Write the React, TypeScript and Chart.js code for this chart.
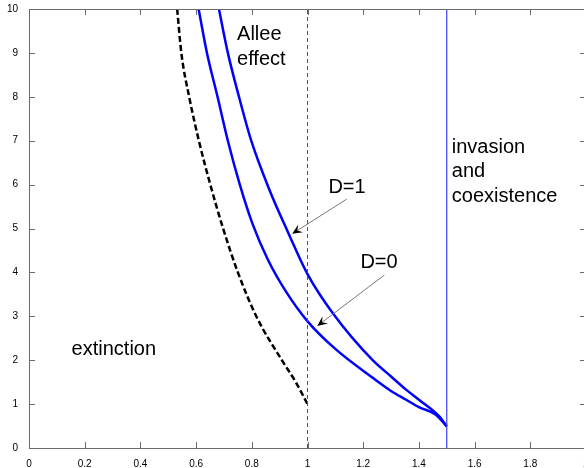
import React, { useEffect, useRef } from "react";
import { Chart, registerables } from "chart.js";

Chart.register(...registerables);

// Data
const dashX = [0.532, 0.547, 0.575, 0.61, 0.651, 0.697, 0.75, 0.816, 0.908, 0.958, 1.0];
const dashY = [10, 9, 8, 7, 6, 5, 4, 3, 2, 1.5, 1.0];

const d0X = [0.609, 0.639, 0.677, 0.714, 0.757, 0.803, 0.857, 0.924, 1.001, 1.103, 1.234, 1.3, 1.354, 1.4, 1.461, 1.5];
const d0Y = [10, 9, 8, 7, 6, 5.1, 4.3, 3.55, 2.88, 2.24, 1.6, 1.3, 1.1, 0.93, 0.76, 0.49];

const d1X = [0.682, 0.714, 0.754, 0.798, 0.862, 0.931, 1.001, 1.091, 1.234, 1.3, 1.354, 1.4, 1.473, 1.5];
const d1Y = [10, 9, 8, 7, 5.9, 4.9, 3.95, 3.07, 2.0, 1.63, 1.33, 1.1, 0.72, 0.49];

const alleeLineX = [1, 1];
const invasionLineX = [1.5, 1.5];
const vertLineY = [0, 10];

const xTicks = [0, 0.2, 0.4, 0.6, 0.8, 1, 1.2, 1.4, 1.6, 1.8, 2];
const yTicks = [0, 1, 2, 3, 4, 5, 6, 7, 8, 9, 10];

// Annotations (data coordinates)
const labelTexts = [["Allee", "effect"], ["extinction"], ["invasion", "and", "coexistence"], ["D=1"], ["D=0"]];
const labelX = [0.747, 0.153, 1.518, 1.075, 1.19];
const labelY = [9.29, 2.12, 6.72, 5.82, 4.1];

const arrowFromX = [1.141, 1.276];
const arrowFromY = [5.67, 3.94];
const arrowToX = [0.945, 1.035];
const arrowToY = [4.88, 2.78];

const zip = (xs: number[], ys: number[]) => xs.map((x, i) => ({ x, y: ys[i] }));

const AXIS_COLOR = "#6a6a6a";

const decorPlugin = {
  id: "decor",
  afterDraw(chart: any) {
    const { ctx, chartArea, scales } = chart;
    const xs = scales.x;
    const ys = scales.y;
    ctx.save();
    ctx.strokeStyle = AXIS_COLOR;
    ctx.lineWidth = 1;
    ctx.beginPath();
    ctx.moveTo(chartArea.left, chartArea.top + 0.5);
    ctx.lineTo(chartArea.right, chartArea.top + 0.5);
    ctx.moveTo(chartArea.right - 0.5, chartArea.top);
    ctx.lineTo(chartArea.right - 0.5, chartArea.bottom);
    const tl = 6;
    xTicks.forEach((v) => {
      const px = Math.round(xs.getPixelForValue(v)) + 0.5;
      ctx.moveTo(px, chartArea.bottom);
      ctx.lineTo(px, chartArea.bottom - tl);
      ctx.moveTo(px, chartArea.top);
      ctx.lineTo(px, chartArea.top + tl);
    });
    yTicks.forEach((v) => {
      const py = Math.round(ys.getPixelForValue(v)) + 0.5;
      ctx.moveTo(chartArea.left, py);
      ctx.lineTo(chartArea.left + tl, py);
      ctx.moveTo(chartArea.right, py);
      ctx.lineTo(chartArea.right - tl, py);
    });
    ctx.stroke();

    ctx.fillStyle = "#000";
    ctx.font = "20px 'Liberation Sans', Arial, sans-serif";
    ctx.textBaseline = "alphabetic";
    ctx.textAlign = "left";
    labelTexts.forEach((lines, i) => {
      const px = xs.getPixelForValue(labelX[i]);
      const py = ys.getPixelForValue(labelY[i]);
      lines.forEach((t, j) => ctx.fillText(t, px, py + j * 24.5));
    });

    arrowFromX.forEach((_, i) => {
      const x0 = xs.getPixelForValue(arrowFromX[i]);
      const y0 = ys.getPixelForValue(arrowFromY[i]);
      const x1 = xs.getPixelForValue(arrowToX[i]);
      const y1 = ys.getPixelForValue(arrowToY[i]);
      const ang = Math.atan2(y1 - y0, x1 - x0);
      ctx.strokeStyle = "#777";
      ctx.lineWidth = 1;
      ctx.beginPath();
      ctx.moveTo(x0, y0);
      ctx.lineTo(x1 - 6 * Math.cos(ang), y1 - 6 * Math.sin(ang));
      ctx.stroke();
      const L = 11;
      const W = 0.42;
      const notch = 6;
      ctx.fillStyle = "#000";
      ctx.beginPath();
      ctx.moveTo(x1, y1);
      ctx.lineTo(x1 - L * Math.cos(ang - W), y1 - L * Math.sin(ang - W));
      ctx.lineTo(x1 - notch * Math.cos(ang), y1 - notch * Math.sin(ang));
      ctx.lineTo(x1 - L * Math.cos(ang + W), y1 - L * Math.sin(ang + W));
      ctx.closePath();
      ctx.fill();
    });
    ctx.restore();
  },
};

export default function App() {
  const ref = useRef<HTMLCanvasElement | null>(null);
  useEffect(() => {
    document.body.style.margin = "0";
    if (!ref.current) return;
    const chart = new Chart(ref.current, {
      type: "line",
      data: {
        datasets: [
          {
            data: zip(alleeLineX, vertLineY),
            borderColor: "#555",
            borderWidth: 1,
            borderDash: [4, 3],
            pointRadius: 0,
            tension: 0,
          },
          {
            data: zip(invasionLineX, vertLineY),
            borderColor: "#3c3cff",
            borderWidth: 1.2,
            pointRadius: 0,
            tension: 0,
          },
          {
            data: zip(dashX, dashY),
            borderColor: "#000",
            borderWidth: 2.5,
            borderDash: [6, 3],
            pointRadius: 0,
            cubicInterpolationMode: "monotone",
          },
          {
            data: zip(d0X, d0Y),
            borderColor: "#0000ff",
            borderWidth: 2.5,
            pointRadius: 0,
            cubicInterpolationMode: "monotone",
          },
          {
            data: zip(d1X, d1Y),
            borderColor: "#0000ff",
            borderWidth: 2.5,
            pointRadius: 0,
            cubicInterpolationMode: "monotone",
          },
        ],
      },
      options: {
        animation: false,
        responsive: false,
        devicePixelRatio: 1,
        layout: { padding: { top: 9, right: 15, left: 0, bottom: 0 } },
        plugins: { legend: { display: false }, tooltip: { enabled: false } },
        scales: {
          x: {
            type: "linear",
            min: 0,
            max: 2,
            afterBuildTicks: (s: any) => {
              s.ticks = xTicks.map((v) => ({ value: v }));
            },
            afterFit: (s: any) => {
              s.height = 20;
            },
            grid: { display: false },
            border: { display: true, color: AXIS_COLOR, width: 1 },
            ticks: {
              color: "#000",
              padding: 2,
              maxRotation: 0,
              autoSkip: false,
              font: { size: 10, family: "'Liberation Sans', Arial, sans-serif" },
              callback: (v: any) => String(Math.round(v * 10) / 10),
            },
          },
          y: {
            type: "linear",
            min: 0,
            max: 10,
            afterBuildTicks: (s: any) => {
              s.ticks = yTicks.map((v) => ({ value: v }));
            },
            afterFit: (s: any) => {
              s.width = 29;
            },
            grid: { display: false },
            border: { display: true, color: AXIS_COLOR, width: 1 },
            ticks: {
              color: "#000",
              padding: 3,
              autoSkip: false,
              font: { size: 10, family: "'Liberation Sans', Arial, sans-serif" },
            },
          },
        },
      },
      plugins: [decorPlugin],
    });
    return () => chart.destroy();
  }, []);
  return (
    <div style={{ width: 584, height: 468, overflow: "hidden", background: "#fff" }}>
      <canvas ref={ref} width={601} height={468} style={{ display: "block", width: 601, height: 468 }} />
    </div>
  );
}
